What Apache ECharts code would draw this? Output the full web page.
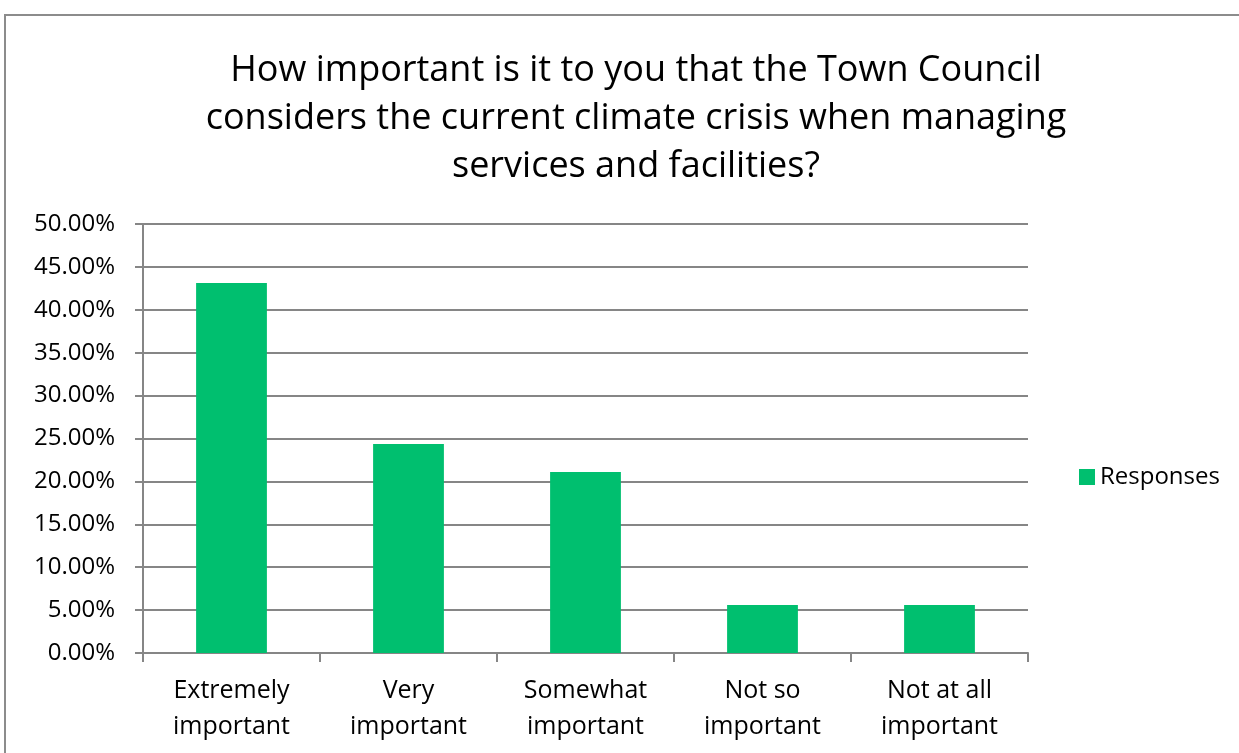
<!DOCTYPE html>
<html>
<head>
<meta charset="utf-8">
<script src="https://cdn.jsdelivr.net/npm/echarts@6/dist/echarts.min.js"></script>
<style>
  html, body { margin: 0; padding: 0; background: #fff; }
  #frame { position: absolute; left: 4px; top: 14px; width: 1240px; height: 760px;
           border-top: 2px solid #8c8c8c; border-left: 2px solid #8c8c8c; }
  #chart { position: absolute; left: 0; top: 0; width: 1239px; height: 753px; }
</style>
</head>
<body>
<div id="frame"></div>
<div id="chart"></div>
<script>
// categories and values
var categories = ['Extremely\nimportant', 'Very\nimportant', 'Somewhat\nimportant', 'Not so\nimportant', 'Not at all\nimportant'];
var responses = [0.4312, 0.2436, 0.2110, 0.0559, 0.0559];
var titleText = 'How important is it to you that the Town Council\nconsiders the current climate crisis when managing\nservices and facilities?';

var font = '"Open Sans", "Liberation Sans", sans-serif';
var myChart = echarts.init(document.getElementById('chart'));
myChart.setOption({
    animation: false,
    title: {
        text: titleText,
        left: 631,
        textAlign: 'center',
        top: 42,
        textStyle: {
            fontFamily: font,
            fontSize: 36,
            fontWeight: 'normal',
            color: '#000',
            lineHeight: 48
        }
    },
    grid: {
        left: 143,
        right: 211,
        top: 224,
        bottom: 100,
        containLabel: false
    },
    legend: {
        data: ['Responses'],
        orient: 'vertical',
        left: 1074,
        top: 460,
        icon: 'rect',
        itemWidth: 16,
        itemHeight: 16,
        itemGap: 8,
        textStyle: { fontFamily: font, fontSize: 24, color: '#000' }
    },
    xAxis: {
        type: 'category',
        data: categories,
        axisLine: { lineStyle: { color: '#868686', width: 2 } },
        axisTick: { show: true, length: 9, lineStyle: { color: '#868686', width: 2 } },
        axisLabel: {
            fontFamily: font,
            fontSize: 25,
            lineHeight: 36,
            color: '#000',
            margin: 20
        }
    },
    yAxis: {
        type: 'value',
        min: 0,
        max: 0.5,
        interval: 0.05,
        axisLine: { show: true, lineStyle: { color: '#868686', width: 2 } },
        axisTick: { show: true, length: 8, lineStyle: { color: '#868686', width: 2 } },
        splitLine: { lineStyle: { color: '#868686', width: 2 } },
        axisLabel: {
            fontFamily: font,
            fontSize: 24,
            color: '#000',
            margin: 28,
            formatter: function (v) { return (v * 100).toFixed(2) + '%'; }
        }
    },
    series: [
        {
            name: 'Responses',
            type: 'bar',
            data: responses,
            barWidth: '40%',
            itemStyle: { color: '#00BF6F' }
        }
    ]
});
</script>
</body>
</html>
